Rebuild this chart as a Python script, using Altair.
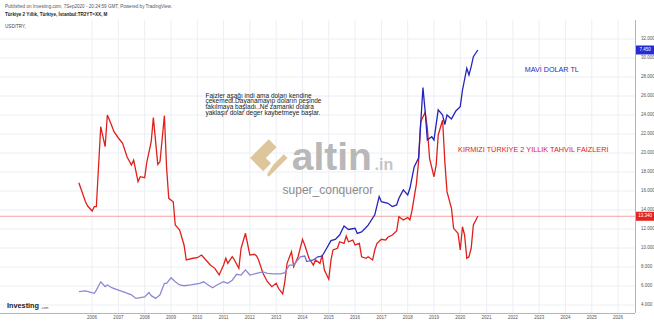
import altair as alt
import pandas as pd

FONT = "Liberation Sans"

# ---- data ----
red_dates = ["2005-07","2005-10","2005-11","2006-01","2006-02","2006-03","2006-05","2006-07","2006-08","2006-10",
             "2006-11","2007-01","2007-03","2007-05","2007-07","2007-08","2007-10","2007-11","2008-01","2008-02",
             "2008-04","2008-05","2008-07","2008-08","2008-10","2008-11","2008-12","2009-02","2009-03","2009-05",
             "2009-07","2009-08","2009-11","2010-01","2010-03","2010-05","2010-07","2010-09","2010-11","2011-01",
             "2011-02","2011-03","2011-05","2011-06","2011-08","2011-09","2011-11","2012-01","2012-03","2012-04",
             "2012-05","2012-07","2012-09","2012-11","2013-01","2013-02","2013-04","2013-05","2013-06","2013-08",
             "2013-09","2013-11","2014-01","2014-02","2014-04","2014-06","2014-07","2014-09","2014-10","2014-11",
             "2015-01","2015-02","2015-03","2015-05","2015-06","2015-08","2015-09","2015-10","2015-12","2016-01",
             "2016-03","2016-04","2016-06","2016-07","2016-09","2016-10","2016-11","2017-01","2017-03","2017-04",
             "2017-06","2017-08","2017-09","2017-11","2018-01","2018-02","2018-03","2018-05","2018-06","2018-07",
             "2018-09","2018-10","2018-11","2019-01","2019-02","2019-03","2019-05","2019-06","2019-07","2019-09",
             "2019-10","2019-12","2020-01","2020-02","2020-03","2020-04","2020-05","2020-06","2020-07","2020-09"]
red_vals = [16.87,14.87,14.42,13.89,14.35,14.35,22.77,20.66,24.0,22.87,
            22.24,21.58,21.02,19.61,18.74,19.26,16.98,17.51,17.4,19.08,
            21.19,23.72,18.81,19.08,23.93,18.39,15.23,14.87,12.42,11.89,
            10.32,8.74,8.92,8.98,9.26,8.74,8.21,7.86,7.16,8.21,
            8.92,8.39,9.08,8.74,7.86,9.97,11.55,9.26,9.34,9.2,
            8.74,7.34,6.45,5.93,6.28,5.76,5.16,6.45,8.39,9.61,
            8.03,9.08,10.92,10.32,8.92,8.21,8.74,8.39,9.26,7.68,
            6.71,8.74,9.79,9.97,10.66,10.49,11.26,10.66,10.84,10.32,
            10.49,9.08,8.92,9.08,8.74,9.79,10.49,10.92,10.84,11.13,
            11.37,11.8,13.29,12.95,13.2,12.95,13.9,16.7,19.08,23.3,
            24.28,22.6,19.44,17.5,18.74,21.9,23.47,19.08,15.93,14.18,
            12.07,11.55,9.79,12.24,11.37,8.92,9.08,9.97,12.42,13.34]

blue_dates = ["2005-07","2005-10","2005-12","2006-02","2006-03","2006-05","2006-07","2006-08","2006-10","2007-01",
              "2007-04","2007-07","2007-09","2007-11","2008-01","2008-03","2008-04","2008-06","2008-08","2008-10",
              "2008-11","2009-01","2009-03","2009-05","2009-07","2009-10","2010-02","2010-04","2010-06","2010-08",
              "2010-10","2011-01","2011-03","2011-05","2011-07","2011-09","2011-11","2012-01","2012-04","2012-07",
              "2012-09","2012-12","2013-03","2013-05","2013-07","2013-09","2013-12","2014-02","2014-03","2014-06",
              "2014-08","2014-10","2014-12","2015-02","2015-04","2015-06","2015-08","2015-10","2016-01","2016-02",
              "2016-04","2016-06","2016-07","2016-10","2016-12","2017-01","2017-04","2017-06","2017-08","2017-09",
              "2017-11","2018-01","2018-02","2018-04","2018-06","2018-08","2018-09","2018-10","2018-12","2019-01",
              "2019-03","2019-05","2019-06","2019-07","2019-09","2019-11","2020-01","2020-02","2020-04","2020-05",
              "2020-06","2020-07","2020-09"]
blue_vals = [1.35,1.37,1.34,1.31,1.39,1.60,1.48,1.52,1.45,1.39,
             1.33,1.27,1.18,1.20,1.22,1.33,1.25,1.18,1.27,1.56,
             1.56,1.70,1.60,1.52,1.50,1.52,1.56,1.60,1.52,1.45,
             1.52,1.60,1.56,1.64,1.79,1.77,1.90,1.77,1.81,1.85,
             1.81,1.80,1.80,1.83,2.02,2.02,2.23,2.25,2.11,2.15,
             2.23,2.25,2.44,2.64,2.67,2.78,3.01,2.92,2.95,2.82,
             2.86,2.97,3.03,3.29,3.75,3.62,3.58,3.50,3.54,3.71,
             3.92,3.79,3.96,4.50,4.72,6.50,5.89,5.18,5.26,5.18,
             5.94,5.81,5.57,5.81,5.71,5.91,6.02,6.44,6.99,6.82,
             7.03,7.28,7.45]

years = [2006, 2007, 2008, 2009, 2010, 2011, 2012, 2013, 2014, 2015, 2016,
         2017, 2018, 2019, 2020, 2021, 2022, 2023, 2024, 2025, 2026]
yield_ticks = [4, 6, 8, 10, 12, 14, 16, 18, 20, 22, 24, 26, 28, 30, 32]

header_lines = ["Published on Investing.com, 7Sep2020 - 20:24:59 GMT, Powered by TradingView.",
                "Türkiye 2 Yıllık, Türkiye, İstanbul:TR2YT=XX, M",
                "USD/TRY,"]

note_lines = ["Faizler aşağı indi ama doları kendine",
              "çekemedi.Dayanamayıp doların peşinde",
              "takılmaya başladı..Ne zamanki dolara",
              "yaklaşır dolar deger kaybetmeye başlar."]
note_dates = ["2010-04-25", "2010-04-25", "2010-04-25", "2010-04-25"]
note_vals = [26.05, 25.45, 24.85, 24.25]

blue_note = ["MAVİ DOLAR TL"]
blue_note_pos = ["2022-06-15", 28.74]
red_note = ["KIRMIZI TÜRKİYE 2 YILLIK TAHVİL FAİZLERİ"]
red_note_pos = ["2019-12-01", 20.32]

wm_word = ["altin"]
wm_word_pos = ["2013-08-05", 18.21]
wm_in = [".in"]
wm_in_pos = ["2017-06-15", 18.21]
wm_user = ["super_conqueror"]
wm_user_pos = ["2014-12-20", 16.1]
wm_logo_pos = ["2012-09-20", 19.47]

GRID = "#eceef3"
AXISLINE = "#b4b4b4"
LABEL = "#555555"

# ---- frames ----
red_df = pd.DataFrame({"date": red_dates, "v": red_vals})
blue_df = pd.DataFrame({"date": blue_dates, "v": blue_vals})
red_last = red_df.tail(1)
blue_last = blue_df.tail(1)
year_df = pd.DataFrame({"date": [f"{y}-01-01" for y in years], "t": [str(y) for y in years]})
ytick_df = pd.DataFrame({"v": yield_ticks})

xs = alt.Scale(domain=[alt.DateTime(year=2002, month=7, date=2),
                       alt.DateTime(year=2026, month=8, date=24)])
ys_red = alt.Scale(domain=[3.158, 34.0], nice=False, zero=False)
ys_blue = alt.Scale(domain=[0.812, 8.207], nice=False, zero=False)

X0 = alt.X("date:T", scale=xs, axis=None)
Yr = alt.Y("v:Q", scale=ys_red, axis=None)
Yb = alt.Y("v:Q", scale=ys_blue, axis=None)

def one(pos, label):
    return pd.DataFrame({"date": [pos[0]], "v": [pos[1]], "t": label})

# grid, axis lines and tick labels drawn through the scales
vgrid = alt.Chart(year_df).mark_rule(color=GRID, strokeWidth=1).encode(
    x=X0, y=alt.value(0), y2=alt.value(293))
hgrid = alt.Chart(ytick_df).mark_rule(color=GRID, strokeWidth=1).encode(
    y=Yr, x=alt.value(0), x2=alt.value(635))
xlab = alt.Chart(year_df).mark_text(font=FONT, fontSize=4.5, color=LABEL,
                                    align="center", baseline="middle").encode(
    x=X0, y=alt.value(298), text="t:N")
ylab = alt.Chart(ytick_df).mark_text(font=FONT, fontSize=4.5, color=LABEL,
                                     align="left", baseline="middle").encode(
    y=Yr, x=alt.value(641), text=alt.Text("v:Q", format=".3f"))
right_line = alt.Chart(ytick_df.head(1)).mark_rule(color=AXISLINE, strokeWidth=1).encode(
    x=alt.value(635.5), y=alt.value(0), y2=alt.value(293))
bottom_line = alt.Chart(ytick_df.head(1)).mark_rule(color=AXISLINE, strokeWidth=1).encode(
    y=alt.value(293.5), x=alt.value(0), x2=alt.value(635))

# header texts (outside plot)
hdr = alt.Chart(pd.DataFrame({"t": [header_lines[0]]})).mark_text(
    align="left", baseline="middle", font=FONT, fontSize=4.6, color="#555555"
).encode(x=alt.value(5), y=alt.value(-13), text="t:N")
hdr2 = alt.Chart(pd.DataFrame({"t": [header_lines[1]]})).mark_text(
    align="left", baseline="middle", font=FONT, fontSize=4.6, fontWeight="bold", color="#222222"
).encode(x=alt.value(5), y=alt.value(-5.5), text="t:N")
hdr3 = alt.Chart(pd.DataFrame({"t": [header_lines[2]]})).mark_text(
    align="left", baseline="middle", font=FONT, fontSize=4.6, color="#444444"
).encode(x=alt.value(5), y=alt.value(7), text="t:N")

inv = alt.Chart(pd.DataFrame({"t": ["Investing"]})).mark_text(
    align="left", baseline="middle", font=FONT, fontSize=7.3, fontWeight="bold", color="#1c1c1c"
).encode(x=alt.value(7), y=alt.value(286), text="t:N")
inv2 = alt.Chart(pd.DataFrame({"t": [".com"]})).mark_text(
    align="left", baseline="middle", font=FONT, fontSize=3.4, color="#444444"
).encode(x=alt.value(41), y=alt.value(287.5), text="t:N")

# watermark
logo_path = ("M-1,0 L0,-1 L0.42,-0.58 L-0.16,0 L0.12,0.28 L-0.3,0.7 Z "
             "M0.22,0.38 L0.8,-0.2 L1,0 L0,1 L-0.1,0.9 Z")
logo = alt.Chart(one(wm_logo_pos, ["logo"])).mark_point(
    shape=logo_path, filled=True, size=1400, color="#ddc69c", opacity=1
).encode(x=X0, y=Yr)
word = alt.Chart(one(wm_word_pos, wm_word)).mark_text(
    align="left", baseline="alphabetic", font=FONT, fontSize=39, fontWeight="bold", color="#b8b8b8"
).encode(x=X0, y=Yr, text="t:N")
word_in = alt.Chart(one(wm_in_pos, wm_in)).mark_text(
    align="right", baseline="alphabetic", font=FONT, fontSize=16, fontWeight="bold", color="#c4c4c4"
).encode(x=X0, y=Yr, text="t:N")
user = alt.Chart(one(wm_user_pos, wm_user)).mark_text(
    align="center", baseline="middle", font=FONT, fontSize=12, color="#8c8c8c"
).encode(x=X0, y=Yr, text="t:N")

notes = alt.Chart(pd.DataFrame({"date": note_dates, "v": note_vals, "t": note_lines})).mark_text(
    align="left", baseline="middle", font=FONT, fontSize=6.5, color="#222222"
).encode(x=X0, y=Yr, text="t:N")
bnote = alt.Chart(one(blue_note_pos, blue_note)).mark_text(
    align="left", baseline="middle", font=FONT, fontSize=7.2, color="#2a2ab8"
).encode(x=X0, y=Yr, text="t:N")
rnote = alt.Chart(one(red_note_pos, red_note)).mark_text(
    align="left", baseline="middle", font=FONT, fontSize=7.3, color="#e0201b"
).encode(x=X0, y=Yr, text="t:N")

# red series
red_line = alt.Chart(red_df).mark_line(color="#e0201b", strokeWidth=1.3).encode(x=X0, y=Yr)
red_rule = alt.Chart(red_last).mark_rule(color="#f29a9a", strokeWidth=0.9).encode(
    y=Yr, x=alt.value(0), x2=alt.value(635))
box_path = "M-1,-0.5 L1,-0.5 L1,0.5 L-1,0.5 Z"
red_box = alt.Chart(red_last).mark_point(shape=box_path, filled=True, size=324,
                                          color="#e3241f", opacity=1).encode(
    x=alt.value(645), y=Yr)
red_box_t = alt.Chart(red_last).mark_text(font=FONT, fontSize=4.5, color="white",
                                           align="center", baseline="middle").encode(
    x=alt.value(645), y=Yr, text=alt.Text("v:Q", format=".3f"))

red_group = alt.layer(vgrid, hgrid, right_line, bottom_line, xlab, ylab,
                      logo, word, word_in, user, notes, bnote, rnote, inv, inv2,
                      hdr, hdr2, hdr3, red_rule, red_line, red_box, red_box_t)

# blue series
grad = alt.Gradient(gradient="linear",
                    stops=[alt.GradientStop(color="#8d89d2", offset=0),
                           alt.GradientStop(color="#8d89d2", offset=0.55),
                           alt.GradientStop(color="#2424bb", offset=0.62),
                           alt.GradientStop(color="#2424bb", offset=1)],
                    x1=0, x2=1, y1=0, y2=0)
blue_line = alt.Chart(blue_df).mark_line(stroke=grad, strokeWidth=1.3).encode(x=X0, y=Yb)
blue_box = alt.Chart(blue_last).mark_point(shape=box_path, filled=True, size=324,
                                            color="#2a2ad4", opacity=1).encode(
    x=alt.value(645), y=Yb)
blue_box_t = alt.Chart(blue_last).mark_text(font=FONT, fontSize=4.5, color="white",
                                             align="center", baseline="middle").encode(
    x=alt.value(645), y=Yb, text=alt.Text("v:Q", format=".3f"))
blue_group = alt.layer(blue_line, blue_box, blue_box_t)

chart = alt.layer(red_group, blue_group).resolve_scale(y="independent").properties(
    width=635, height=293,
    padding={"left": 0, "top": 20, "right": 19, "bottom": 9},
    autosize=alt.AutoSizeParams(type="none"),
    background="white",
).configure_view(stroke=None)

chart.save("out.html", embed_options={"renderer": "svg", "actions": False})
